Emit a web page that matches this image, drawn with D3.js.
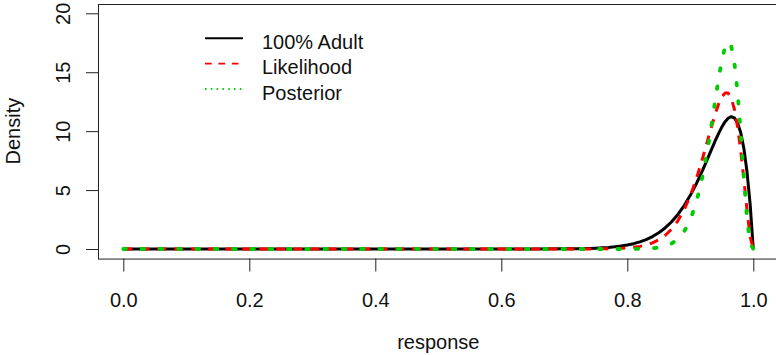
<!DOCTYPE html>
<html>
<head>
<meta charset="utf-8">
<script src="https://cdn.jsdelivr.net/npm/d3@7"></script>
<style>
  body { margin: 0; background: #fff; }
  svg { display: block; font-family: "Liberation Sans", Arial, sans-serif; }
</style>
</head>
<body>
<div id="chart"></div>
<script>
// values
const response = [0, 0.1, 0.2, 0.3, 0.4, 0.5, 0.6, 0.65, 0.7, 0.72, 0.74,
  0.75, 0.76, 0.77, 0.78, 0.79, 0.8, 0.81, 0.82, 0.83, 0.84, 0.85, 0.86, 0.87,
  0.88, 0.89, 0.9, 0.91, 0.92, 0.93, 0.94, 0.945, 0.95, 0.955, 0.96, 0.965, 0.97,
  0.975, 0.98, 0.985, 0.99, 0.995, 1.0];

const adult = [0, 0, 0, 0, 0, 0, 0.0002, 0.002, 0.012, 0.025, 0.049,
  0.069, 0.096, 0.133, 0.182, 0.249, 0.337, 0.453, 0.605, 0.802, 1.056, 1.378, 1.785, 2.291,
  2.912, 3.663, 4.553, 5.583, 6.741, 7.982, 9.232, 9.817, 10.346, 10.785, 11.096, 11.23, 11.123,
  10.705, 9.882, 8.547, 6.566, 3.780, 0];

const likelihood = [0, 0, 0, 0, 0, 0, 0, 0, 0.0005, 0.0015, 0.0046,
  0.0077, 0.013, 0.021, 0.035, 0.057, 0.090, 0.143, 0.223, 0.342, 0.520, 0.778, 1.148, 1.665,
  2.372, 3.314, 4.528, 6.031, 7.793, 9.705, 11.538, 12.31, 12.90, 13.23, 13.23, 12.79, 11.86,
  10.378, 8.362, 5.914, 3.301, 1.035, 0];

const posterior = [0, 0, 0, 0, 0, 0, 0, 0, 0, 0, 0,
  0.0001, 0.0001, 0.0003, 0.0008, 0.0017, 0.0036, 0.0077, 0.016, 0.033, 0.066, 0.129, 0.246, 0.457,
  0.828, 1.456, 2.472, 4.038, 6.298, 9.290, 12.771, 14.49, 16.002, 17.11, 17.60, 17.22, 15.819,
  13.32, 9.910, 6.061, 2.599, 0.469, 0];

const xTicks = [0, 0.2, 0.4, 0.6, 0.8, 1.0];
const yTicks = [0, 5, 10, 15, 20];
const legendLabels = ["100% Adult", "Likelihood", "Posterior"];

const width = 776, height = 355;

const x = d3.scaleLinear().domain([0, 1]).range([123.3, 753.3]);
const y = d3.scaleLinear().domain([0, 20]).range([249, 13.3]);

const svg = d3.select("#chart").append("svg")
  .attr("width", width)
  .attr("height", height);

// plot box (R style, 4% extension)
svg.append("rect")
  .attr("x", Math.round(x(-0.04)) + 0.5)
  .attr("y", Math.round(y(20.8)) + 0.5)
  .attr("width", x(1.04) - x(-0.04))
  .attr("height", y(-0.8) - y(20.8))
  .attr("fill", "none")
  .attr("stroke", "#222")
  .attr("stroke-width", 1);

const boxLeft = Math.round(x(-0.04)) + 0.5;
const boxBottom = Math.round(y(-0.8)) + 0.5;

// x axis
const xAxis = svg.append("g")
  .attr("transform", `translate(0,${boxBottom})`)
  .call(d3.axisBottom(x).tickValues(xTicks).tickSize(13).tickPadding(21)
    .tickFormat(d3.format(".1f")));
xAxis.select(".domain").remove();
xAxis.selectAll("line").attr("stroke", "#222");
xAxis.selectAll("text")
  .attr("font-size", 20)
  .attr("font-family", "Liberation Sans, Arial, sans-serif")
  .attr("fill", "#111");

// y axis
const yAxis = svg.append("g")
  .attr("transform", `translate(${boxLeft},0)`)
  .call(d3.axisLeft(y).tickValues(yTicks).tickSize(12.5));
yAxis.select(".domain").remove();
yAxis.selectAll("line").attr("stroke", "#222");
yAxis.selectAll("text")
  .attr("x", null).attr("dy", null)
  .attr("transform", `translate(${70 - boxLeft},0) rotate(-90)`)
  .attr("text-anchor", "middle")
  .attr("font-size", 20)
  .attr("font-family", "Liberation Sans, Arial, sans-serif")
  .attr("fill", "#111");

// axis titles
svg.append("text")
  .attr("x", (x(-0.04) + x(1.04)) / 2)
  .attr("y", 349)
  .attr("text-anchor", "middle")
  .attr("font-size", 20)
  .attr("fill", "#111")
  .text("response");

svg.append("text")
  .attr("transform", `translate(20,${(y(20.8) + y(-0.8)) / 2}) rotate(-90)`)
  .attr("text-anchor", "middle")
  .attr("font-size", 20)
  .attr("fill", "#111")
  .text("Density");

// curves
const series = [
  { values: adult, color: "#000", width: 3, dash: null, cap: "butt" },
  { values: likelihood, color: "#ff0000", width: 3, dash: "9,8", cap: "butt" },
  { values: posterior, color: "#00cd00", width: 3.8, dash: "2.5,15.8", cap: "round" },
];

const line = d3.line()
  .x((d, i) => x(response[i]))
  .y(d => y(d));

const plot = svg.append("g");
series.forEach(s => {
  plot.append("path")
    .datum(s.values)
    .attr("d", line)
    .attr("fill", "none")
    .attr("stroke", s.color)
    .attr("stroke-width", s.width)
    .attr("stroke-linecap", s.cap)
    .attr("stroke-linejoin", "round")
    .attr("stroke-dasharray", s.dash);
});

// legend (no box)
const legendStyles = [
  { color: "#000", width: 2, dash: null, cap: "butt" },
  { color: "#ff0000", width: 1.7, dash: "6.7,6.7", cap: "butt" },
  { color: "#00cd00", width: 2, dash: "1.5,4.3", cap: "butt" },
];

const legend = svg.append("g");
legendLabels.forEach((label, i) => {
  const ly = 38.3 + i * 25.4;
  legend.append("line")
    .attr("x1", 205).attr("x2", 243)
    .attr("y1", ly).attr("y2", ly)
    .attr("stroke", legendStyles[i].color)
    .attr("stroke-width", legendStyles[i].width)
    .attr("stroke-linecap", legendStyles[i].cap)
    .attr("stroke-dasharray", legendStyles[i].dash);
  legend.append("text")
    .attr("x", 262)
    .attr("y", 49 + i * 25.4)
    .attr("font-size", 20)
    .attr("fill", "#111")
    .text(label);
});
</script>
</body>
</html>
